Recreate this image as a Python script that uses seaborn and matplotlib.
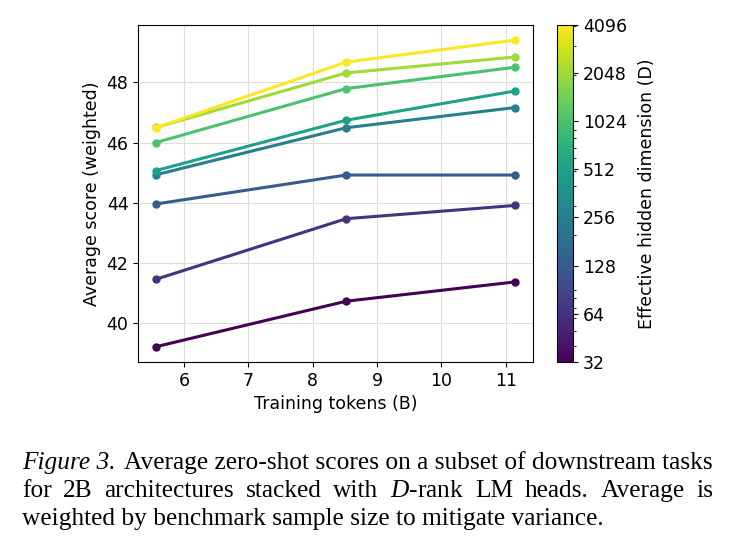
import numpy as np
import pandas as pd
import matplotlib
matplotlib.use("Agg")
import matplotlib.pyplot as plt
import seaborn as sns
from matplotlib.colors import LogNorm

# --- datos ---
tokens = [5.57, 8.52, 11.14]
dims = [32, 64, 128, 256, 512, 1024, 2048, 4096]
score_32 = [39.22, 40.73, 41.37]
score_64 = [41.46, 43.47, 43.91]
score_128 = [43.96, 44.92, 44.92]
score_256 = [44.93, 46.49, 47.16]
score_512 = [45.07, 46.74, 47.71]
score_1024 = [46.00, 47.79, 48.50]
score_2048 = [46.50, 48.31, 48.84]
score_4096 = [46.49, 48.67, 49.40]
scores = [score_32, score_64, score_128, score_256, score_512, score_1024, score_2048, score_4096]

filas = []
for d, s in zip(dims, scores):
    for t, v in zip(tokens, s):
        filas.append({'tokens': t, 'score': v, 'D': d})
df = pd.DataFrame(filas)

plt.rcParams['font.family'] = 'DejaVu Sans'
# fuente tipo Times para la leyenda de la figura
plt.rcParams['mathtext.fontset'] = 'custom'
plt.rcParams['mathtext.rm'] = 'Liberation Serif'
plt.rcParams['mathtext.it'] = 'Liberation Serif:italic'

fig = plt.figure(figsize=(7.35, 5.51), dpi=100)
ax = fig.add_axes([0.188, 0.343, 0.537, 0.612])

norm = LogNorm(vmin=32, vmax=4096)
sns.lineplot(data=df, x='tokens', y='score', hue='D', hue_norm=norm,
             palette='viridis', marker='o', markersize=6, markeredgewidth=0,
             linewidth=2.2, legend=False, ax=ax)

ax.grid(True, color='#dddddd', linewidth=0.8)
ax.set_axisbelow(True)
ax.set_xticks([6, 7, 8, 9, 10, 11])
ax.set_yticks([40, 42, 44, 46, 48])
ax.tick_params(labelsize=12.5)
ax.set_xlabel('Training tokens (B)', fontsize=12.5)
ax.set_ylabel('Average score (weighted)', fontsize=12.5)

cax = fig.add_axes([0.758, 0.343, 0.022, 0.612])
sm = plt.cm.ScalarMappable(norm=norm, cmap='viridis')
cb = fig.colorbar(sm, cax=cax)
cb.set_ticks(dims)
cb.set_ticklabels([str(d) for d in dims])
cb.ax.tick_params(labelsize=12.5)
cb.set_label('Effective hidden dimension (D)', fontsize=12.5, labelpad=8)

# --- pie de figura (texto justificado a mano) ---
tam = 18.3
y0 = 0.148
paso = 28 / 551
x0 = 0.03
renderer = fig.canvas.get_renderer()
t_ital = fig.text(x0, y0, 'Figure 3.', fontsize=tam, family='Liberation Serif',
                  style='italic', va='baseline', ha='left')
ancho = t_ital.get_window_extent(renderer).width / fig.bbox.width
t1 = fig.text(x0 + ancho + 0.012, y0, 'Average zero-shot scores on a subset of downstream tasks',
              fontsize=tam, family='Liberation Serif', va='baseline', ha='left')
x_fin = t1.get_window_extent(renderer).x1 / fig.bbox.width

# segunda linea: repartir el espacio entre palabras
palabras = ['for', '2B', 'architectures', 'stacked', 'with', '$D$-rank', 'LM',
            'heads.', 'Average', 'is']
textos = []
for p in palabras:
    t = fig.text(x0, y0 - paso, p, fontsize=tam, family='Liberation Serif',
                 va='baseline', ha='left')
    textos.append(t)
anchos = [t.get_window_extent(renderer).width / fig.bbox.width for t in textos]
hueco = (x_fin - x0 - sum(anchos)) / (len(palabras) - 1)
x = x0
for t, w in zip(textos, anchos):
    t.set_x(x)
    x += w + hueco

fig.text(x0, y0 - 2 * paso, 'weighted by benchmark sample size to mitigate variance.',
         fontsize=tam, family='Liberation Serif', va='baseline', ha='left')

fig.savefig('out.png', dpi=100)
